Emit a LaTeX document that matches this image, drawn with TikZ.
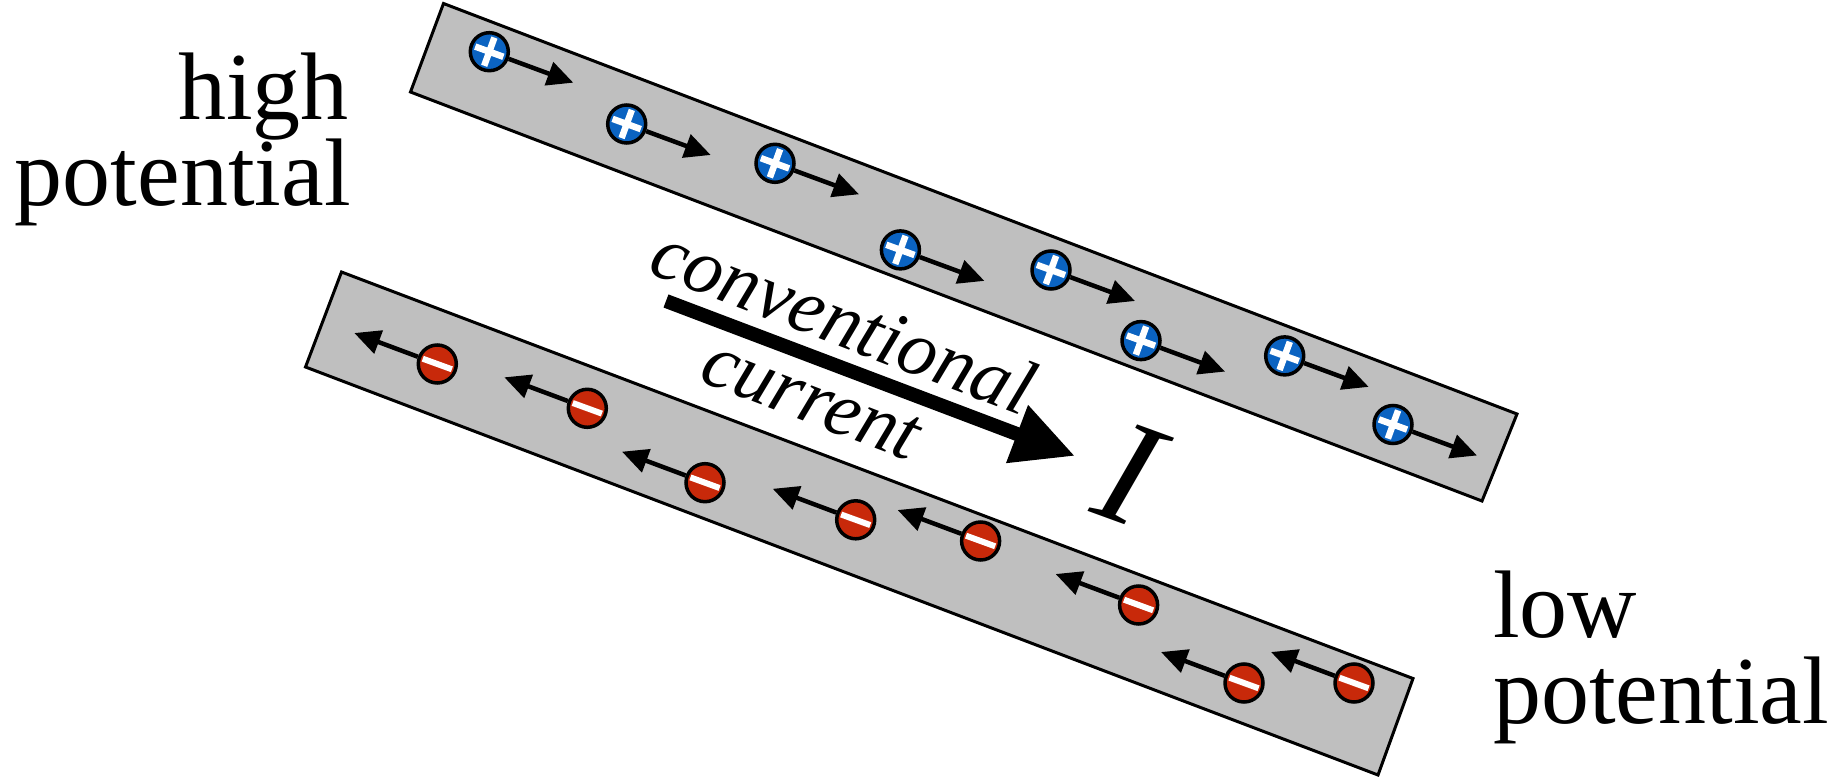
\documentclass[tikz,border=0pt]{standalone}
\usepackage{fontspec}
\setmainfont{Liberation Serif}
\usetikzlibrary{arrows.meta}
\definecolor{barfill}{HTML}{BFBFBF}
\definecolor{posblue}{HTML}{0B63C1}
\definecolor{negred}{HTML}{C8290A}
\tikzset{
  bar/.style={draw=black, line width=3pt, fill=barfill, line join=miter},
  chargebase/.style={circle, draw=black, line width=3.5pt, minimum size=38pt, inner sep=0pt},
  poscharge/.style={chargebase, fill=posblue, path picture={
      \draw[white, line width=6.5pt, shift={(path picture bounding box.center)}]
        (20:15) -- (200:15) (110:15) -- (290:15);}},
  negcharge/.style={chargebase, fill=negred, path picture={
      \draw[white, line width=6pt, shift={(path picture bounding box.center)}]
        (20:15.5) -- (200:15.5);}},
  chgarrow/.style={line width=4.5pt, -{Triangle[length=26pt,width=24pt]}},
  bigarrow/.style={line width=14pt, -{Triangle[length=62pt,width=58pt]}},
  lbl/.style={inner sep=0pt, font=\fontsize{96}{86}\selectfont},
  curlbl/.style={inner sep=0pt, rotate=-21, font=\fontsize{78}{78}\selectfont\itshape},
  ilbl/.style={inner sep=0pt, rotate=-20, font=\fontsize{150}{150}\selectfont\itshape}
}
\begin{document}
\begin{tikzpicture}[x=1pt, y=-1pt]
\useasboundingbox (0,0) rectangle (1848,778);
% bars
\draw[bar] (443.5,3.5) -- (1517,414) -- (1482,501) -- (410.5,92) -- cycle;
\draw[bar] (341.5,272) -- (1413,678.5) -- (1378,775) -- (305.5,367) -- cycle;
% positive charges
\foreach \n/\px/\py in {1/489.3/51.7, 2/626.7/124, 3/775/163.3, 4/900.4/249.9, 5/1051/270, 6/1141/340.6, 7/1284.7/355.9, 8/1393/424.5}{
  \node[poscharge] (p\n) at (\px,\py) {};
  \coordinate (tp\n) at (\px+84,\py+31);
  \draw[chgarrow] (p\n) -- (tp\n);
}
% negative charges
\foreach \n/\px/\py in {1/437.3/364, 2/587.3/408.3, 3/705/482.7, 4/855.7/519.8, 5/980.6/541, 6/1138.6/605, 7/1244/683, 8/1354/683}{
  \node[negcharge] (m\n) at (\px,\py) {};
  \coordinate (tm\n) at (\px-83,\py-31);
  \draw[chgarrow] (m\n) -- (tm\n);
}
% labels
\node[lbl, anchor=base east] (hi1) at (349,120) {high};
\node[lbl, anchor=base east] (hi2) at (351,206) {potential};
\node[lbl, anchor=base west] (lo1) at (1493,637) {low};
\node[lbl, anchor=base west] (lo2) at (1493,723) {potential};
% conventional current
\node[curlbl, anchor=base west] (conv) at (646,272) {conventional};
\node[curlbl, anchor=base west] (curr) at (697,380) {current};
\coordinate (cs) at (666,301);
\coordinate (ce) at (1075,456);
\draw[bigarrow] (cs) -- (ce);
\node[ilbl] (I) at (1129,474) {I};
\end{tikzpicture}
\end{document}
